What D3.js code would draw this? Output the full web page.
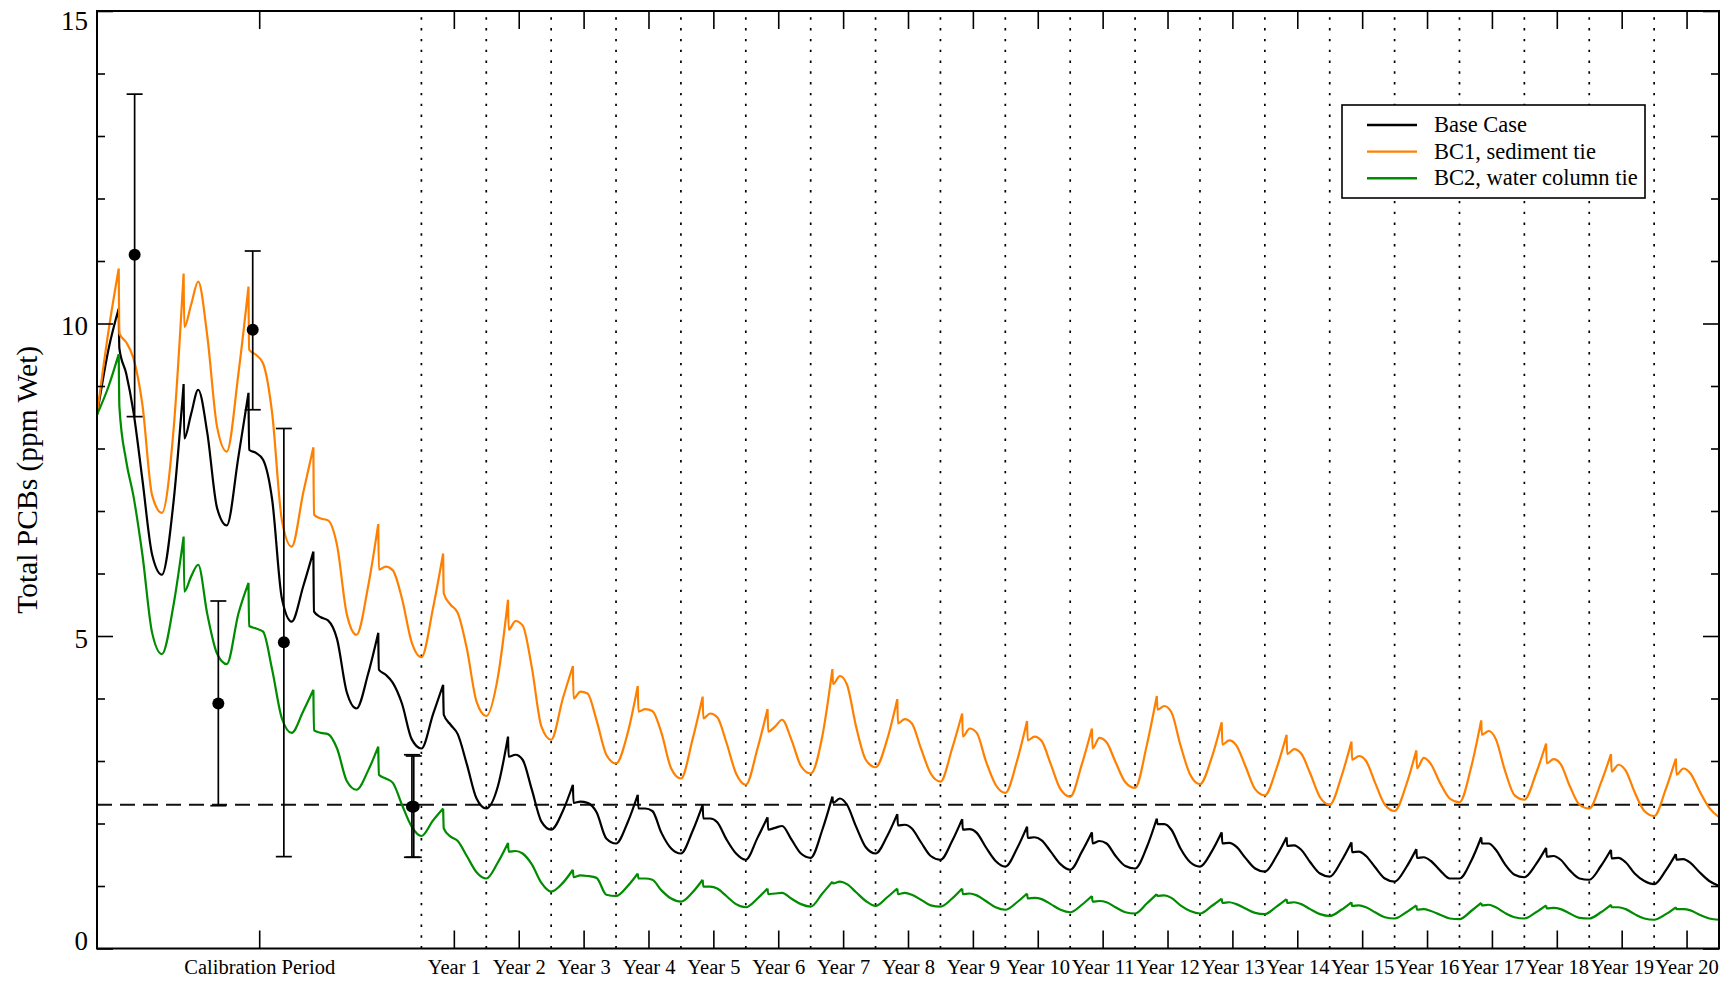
<!DOCTYPE html>
<html>
<head>
<meta charset="utf-8">
<script src="https://cdn.jsdelivr.net/npm/d3@7"></script>
<style>
  html, body { margin: 0; padding: 0; background: #fff; }
  svg { display: block; }
  svg text { font-family: "Liberation Serif", "Times New Roman", serif; }
</style>
</head>
<body>
<svg id="chart" width="1729" height="981"></svg>
<script>
// ---- Data -----------------------------------------------------------------
// Each model year is sampled at the same fractions of the year:
// seasonal low, rising limb, spike top, just after the spike, hump,
// end of plateau, falling limb, knee before the next low.
const cycleOffsets = [0, 0.18, 0.335, 0.345, 0.45, 0.56, 0.70, 0.85];
// Start of each model year (years -5..0 are the calibration period)
const cycleStarts = [-5, -4, -3, -2, -1, 0, 1, 2, 3, 4, 5, 6, 7, 8, 9, 10, 11, 12, 13, 14, 15, 16, 17, 18, 19];

// Base Case, total PCBs (ppm wet), one row per model year
const baseCase = [
  [8.54, 9.60, 10.24, 9.60, 9.20, 8.60, 7.50, 6.30],
  [5.98, 7.15, 9.03, 8.16, 8.55, 8.94, 8.25, 7.05],
  [6.77, 7.87, 8.89, 7.98, 7.93, 7.82, 7.18, 5.60],
  [5.23, 5.80, 6.35, 5.39, 5.30, 5.25, 4.95, 4.10],
  [3.84, 4.40, 5.05, 4.46, 4.38, 4.25, 3.92, 3.35],
  [3.20, 3.75, 4.22, 3.74, 3.58, 3.43, 2.95, 2.40],
  [2.24, 2.60, 3.39, 3.07, 3.10, 3.02, 2.55, 2.03],
  [1.90, 2.20, 2.62, 2.33, 2.35, 2.33, 2.18, 1.76],
  [1.68, 2.02, 2.46, 2.24, 2.24, 2.20, 1.85, 1.60],
  [1.52, 1.88, 2.30, 2.08, 2.08, 2.02, 1.75, 1.52],
  [1.42, 1.77, 2.10, 1.90, 1.93, 1.96, 1.75, 1.52],
  [1.45, 1.90, 2.43, 2.33, 2.40, 2.30, 1.95, 1.62],
  [1.52, 1.80, 2.15, 1.97, 1.98, 1.92, 1.70, 1.48],
  [1.42, 1.72, 2.07, 1.90, 1.91, 1.85, 1.62, 1.40],
  [1.31, 1.60, 1.95, 1.77, 1.78, 1.73, 1.55, 1.35],
  [1.26, 1.55, 1.86, 1.68, 1.72, 1.68, 1.48, 1.32],
  [1.28, 1.62, 2.08, 1.99, 1.99, 1.90, 1.60, 1.38],
  [1.31, 1.55, 1.86, 1.68, 1.69, 1.63, 1.45, 1.28],
  [1.23, 1.48, 1.78, 1.64, 1.65, 1.58, 1.38, 1.20],
  [1.15, 1.40, 1.70, 1.54, 1.55, 1.48, 1.30, 1.12],
  [1.07, 1.30, 1.59, 1.45, 1.46, 1.40, 1.25, 1.12],
  [1.12, 1.40, 1.78, 1.68, 1.68, 1.58, 1.35, 1.18],
  [1.14, 1.35, 1.61, 1.47, 1.48, 1.42, 1.25, 1.12],
  [1.10, 1.32, 1.58, 1.44, 1.45, 1.38, 1.20, 1.08],
  [1.03, 1.25, 1.51, 1.42, 1.43, 1.37, 1.22, 1.08]
];
const baseCaseFinal = 1.00;

// BC1, sediment tie
const bc1Sediment = [
  [8.54, 9.90, 10.88, 9.84, 9.70, 9.45, 8.70, 7.25],
  [6.97, 8.30, 10.80, 9.94, 10.30, 10.67, 9.80, 8.35],
  [7.95, 9.20, 10.59, 9.58, 9.50, 9.36, 8.56, 6.85],
  [6.43, 7.30, 8.02, 6.94, 6.88, 6.85, 6.45, 5.35],
  [5.02, 5.80, 6.79, 6.06, 6.11, 6.05, 5.60, 4.90],
  [4.66, 5.45, 6.32, 5.68, 5.50, 5.37, 4.80, 3.95],
  [3.72, 4.35, 5.58, 5.10, 5.24, 5.17, 4.51, 3.55],
  [3.34, 4.00, 4.52, 4.00, 4.11, 4.08, 3.65, 3.10],
  [2.96, 3.45, 4.20, 3.79, 3.83, 3.80, 3.45, 2.88],
  [2.72, 3.35, 4.03, 3.68, 3.76, 3.70, 3.30, 2.80],
  [2.62, 3.20, 3.83, 3.47, 3.55, 3.66, 3.35, 2.92],
  [2.80, 3.40, 4.47, 4.23, 4.36, 4.22, 3.55, 3.02],
  [2.90, 3.35, 3.99, 3.60, 3.67, 3.60, 3.20, 2.80],
  [2.67, 3.20, 3.76, 3.39, 3.52, 3.45, 3.00, 2.62],
  [2.49, 3.00, 3.64, 3.33, 3.39, 3.32, 2.95, 2.55],
  [2.43, 2.95, 3.52, 3.20, 3.37, 3.30, 2.98, 2.66],
  [2.57, 3.25, 4.04, 3.82, 3.88, 3.78, 3.25, 2.78],
  [2.63, 3.05, 3.62, 3.26, 3.33, 3.25, 2.92, 2.55],
  [2.45, 2.88, 3.42, 3.11, 3.19, 3.12, 2.80, 2.42],
  [2.30, 2.75, 3.31, 3.02, 3.08, 3.00, 2.65, 2.30],
  [2.20, 2.62, 3.17, 2.88, 3.05, 2.95, 2.65, 2.40],
  [2.34, 2.90, 3.65, 3.42, 3.48, 3.35, 2.85, 2.45],
  [2.38, 2.80, 3.28, 2.96, 3.03, 2.95, 2.60, 2.30],
  [2.24, 2.65, 3.11, 2.83, 2.94, 2.85, 2.50, 2.20],
  [2.12, 2.55, 3.04, 2.78, 2.88, 2.80, 2.52, 2.25]
];
const bc1SedimentFinal = 2.10;

// BC2, water column tie
const bc2WaterColumn = [
  [8.54, 9.00, 9.51, 8.67, 7.80, 7.25, 6.30, 5.05],
  [4.71, 5.50, 6.59, 5.71, 5.95, 6.14, 5.35, 4.72],
  [4.55, 5.36, 5.85, 5.16, 5.12, 5.07, 4.46, 3.68],
  [3.45, 3.80, 4.14, 3.49, 3.45, 3.43, 3.20, 2.68],
  [2.54, 2.85, 3.23, 2.78, 2.72, 2.65, 2.30, 1.95],
  [1.80, 2.05, 2.24, 1.92, 1.79, 1.72, 1.48, 1.22],
  [1.12, 1.38, 1.69, 1.55, 1.56, 1.52, 1.35, 1.05],
  [0.91, 1.05, 1.26, 1.14, 1.17, 1.16, 1.13, 0.86],
  [0.84, 1.00, 1.20, 1.12, 1.12, 1.10, 0.93, 0.80],
  [0.75, 0.90, 1.10, 0.99, 0.99, 0.96, 0.84, 0.71],
  [0.66, 0.80, 0.96, 0.87, 0.88, 0.89, 0.80, 0.71],
  [0.67, 0.88, 1.07, 1.04, 1.07, 1.03, 0.90, 0.76],
  [0.68, 0.82, 0.96, 0.87, 0.89, 0.86, 0.78, 0.69],
  [0.67, 0.80, 0.96, 0.87, 0.88, 0.85, 0.76, 0.66],
  [0.62, 0.74, 0.88, 0.80, 0.81, 0.79, 0.71, 0.62],
  [0.58, 0.70, 0.84, 0.75, 0.76, 0.74, 0.66, 0.58],
  [0.56, 0.72, 0.87, 0.84, 0.85, 0.81, 0.69, 0.60],
  [0.56, 0.68, 0.80, 0.73, 0.74, 0.71, 0.64, 0.57],
  [0.55, 0.67, 0.79, 0.73, 0.74, 0.71, 0.63, 0.55],
  [0.52, 0.62, 0.74, 0.68, 0.69, 0.66, 0.58, 0.50],
  [0.48, 0.58, 0.69, 0.62, 0.63, 0.60, 0.54, 0.48],
  [0.47, 0.60, 0.73, 0.69, 0.70, 0.66, 0.57, 0.50],
  [0.48, 0.58, 0.69, 0.64, 0.65, 0.63, 0.56, 0.49],
  [0.48, 0.58, 0.70, 0.66, 0.66, 0.63, 0.55, 0.48],
  [0.46, 0.55, 0.66, 0.63, 0.63, 0.61, 0.54, 0.48]
];
const bc2WaterColumnFinal = 0.46;

// Field observations: mean with low / high of the error bar
const obsYear  = [-4.42, -3.13, -2.60, -2.12, -0.146, -0.118];
const obsValue = [11.10, 3.92, 9.90, 4.90, 2.27, 2.27];
const obsLow   = [8.51, 2.285, 8.62, 1.47, 1.46, 1.46];
const obsHigh  = [13.67, 5.56, 11.16, 8.32, 3.10, 3.08];

// Reference level (dashed line)
const referenceLevel = 2.3;

// Axis ticks and labels
const yMajorTicks = [0, 5, 10, 15];
const yMinorTicks = [1, 2, 3, 4, 6, 7, 8, 9, 11, 12, 13, 14];
const xTickPos = [-2.5, 0.5, 1.5, 2.5, 3.5, 4.5, 5.5, 6.5, 7.5, 8.5, 9.5, 10.5, 11.5, 12.5, 13.5, 14.5, 15.5, 16.5, 17.5, 18.5, 19.5];
const xTickLabels = ["Calibration Period", "Year 1", "Year 2", "Year 3", "Year 4", "Year 5", "Year 6", "Year 7", "Year 8", "Year 9", "Year 10",
  "Year 11", "Year 12", "Year 13", "Year 14", "Year 15", "Year 16", "Year 17", "Year 18", "Year 19", "Year 20"];
const yearBoundaries = [0, 1, 2, 3, 4, 5, 6, 7, 8, 9, 10, 11, 12, 13, 14, 15, 16, 17, 18, 19];

const seriesNames = ["Base Case", "BC1, sediment tie", "BC2, water column tie"];
const seriesColors = ["#000000", "#ff8000", "#008c00"];

// ---- Layout ---------------------------------------------------------------
const plot = { left: 97, right: 1719, top: 11, bottom: 948.5 };
const serif = '"Liberation Serif", "Times New Roman", serif';

const svg = d3.select("#chart");

const x = d3.scaleLinear().domain([-5, 20]).range([plot.left, plot.right]);
const y = d3.scaleLinear().domain([0, 15]).range([plot.bottom, plot.top]);

// Flatten rows into {t, v} points
function toPoints(rows, finalValue) {
  const pts = [];
  rows.forEach((row, i) => row.forEach((v, j) => pts.push({ t: cycleStarts[i] + cycleOffsets[j], v })));
  pts.push({ t: cycleStarts[cycleStarts.length - 1] + 1, v: finalValue });
  return pts;
}

// Split at each spike top so the spikes stay sharp while the rest is smooth
function splitAtSpikes(pts) {
  const spikeIdx = cycleOffsets.indexOf(0.335);
  const cuts = [0];
  for (let i = spikeIdx; i < pts.length - 1; i += cycleOffsets.length) cuts.push(i);
  cuts.push(pts.length - 1);
  const segs = [];
  for (let k = 0; k < cuts.length - 1; k++) segs.push(pts.slice(cuts[k], cuts[k + 1] + 1));
  return segs;
}

const line = d3.line()
  .x(d => x(d.t))
  .y(d => y(d.v))
  .curve(d3.curveMonotoneX);

// ---- Grid: year boundaries (dotted) -----------------------------------------
svg.append("g")
  .selectAll("line")
  .data(yearBoundaries)
  .join("line")
  .attr("x1", d => x(d)).attr("x2", d => x(d))
  .attr("y1", plot.bottom).attr("y2", plot.top)
  .attr("stroke", "#000")
  .attr("stroke-width", 1.7)
  .attr("stroke-dasharray", "2.4,8.4");

// Reference level (dashed)
svg.append("line")
  .attr("x1", plot.left).attr("x2", plot.right)
  .attr("y1", y(referenceLevel)).attr("y2", y(referenceLevel))
  .attr("stroke", "#111")
  .attr("stroke-width", 1.8)
  .attr("stroke-dasharray", "15,8");

// ---- Model series -----------------------------------------------------------
const allSeries = [
  toPoints(baseCase, baseCaseFinal),
  toPoints(bc1Sediment, bc1SedimentFinal),
  toPoints(bc2WaterColumn, bc2WaterColumnFinal)
];

const seriesG = svg.append("g");
allSeries.forEach((pts, i) => {
  seriesG.append("path")
    .attr("d", splitAtSpikes(pts).map(s => line(s)).join(""))
    .attr("fill", "none")
    .attr("stroke", seriesColors[i])
    .attr("stroke-width", 2.2)
    .attr("stroke-linejoin", "round");
});

// ---- Observations with error bars --------------------------------------------
const obs = obsYear.map((t, i) => ({ t, v: obsValue[i], lo: obsLow[i], hi: obsHigh[i] }));
const obsG = svg.append("g").attr("stroke", "#000").attr("stroke-width", 1.7);
obsG.selectAll("line.bar").data(obs).join("line")
  .attr("class", "bar")
  .attr("x1", d => x(d.t)).attr("x2", d => x(d.t))
  .attr("y1", d => y(d.lo)).attr("y2", d => y(d.hi));
obsG.selectAll("line.capHi").data(obs).join("line")
  .attr("class", "capHi")
  .attr("x1", d => x(d.t) - 8).attr("x2", d => x(d.t) + 8)
  .attr("y1", d => y(d.hi)).attr("y2", d => y(d.hi));
obsG.selectAll("line.capLo").data(obs).join("line")
  .attr("class", "capLo")
  .attr("x1", d => x(d.t) - 8).attr("x2", d => x(d.t) + 8)
  .attr("y1", d => y(d.lo)).attr("y2", d => y(d.lo));
svg.append("g").selectAll("circle").data(obs).join("circle")
  .attr("cx", d => x(d.t)).attr("cy", d => y(d.v))
  .attr("r", 6)
  .attr("fill", "#000");

// ---- Axes -------------------------------------------------------------------
function styleAxis(g) {
  g.attr("font-family", null).attr("font-size", null);
  g.select(".domain").remove();
  g.selectAll(".tick line").attr("stroke", "#000").attr("stroke-width", 1.6);
}

// Bottom: labelled ticks
const xAxisBottom = svg.append("g")
  .attr("transform", `translate(0,${plot.bottom})`)
  .call(d3.axisBottom(x).tickValues(xTickPos).tickFormat((d, i) => xTickLabels[i]).tickSize(-18).tickPadding(10.5));
styleAxis(xAxisBottom);
xAxisBottom.selectAll("text")
  .attr("fill", "#000")
  .style("font-family", serif)
  .style("font-size", "20.5px");

// Top: mirrored ticks
const xAxisTop = svg.append("g")
  .attr("transform", `translate(0,${plot.top})`)
  .call(d3.axisTop(x).tickValues(xTickPos).tickFormat("").tickSize(-18));
styleAxis(xAxisTop);

// Left: labelled majors + minors
const yAxisLeft = svg.append("g")
  .attr("transform", `translate(${plot.left},0)`)
  .call(d3.axisLeft(y).tickValues(yMajorTicks).tickFormat(d3.format("d")).tickSize(-16).tickPadding(9));
styleAxis(yAxisLeft);
yAxisLeft.selectAll("text")
  .attr("fill", "#000")
  .style("font-family", serif)
  .style("font-size", "27px")
  .attr("dy", d => d === 15 ? "18px" : d === 0 ? "0.5px" : "11px");

const yAxisLeftMinor = svg.append("g")
  .attr("transform", `translate(${plot.left},0)`)
  .call(d3.axisLeft(y).tickValues(yMinorTicks).tickFormat("").tickSize(-8));
styleAxis(yAxisLeftMinor);

// Right: mirrored ticks
const yAxisRight = svg.append("g")
  .attr("transform", `translate(${plot.right},0)`)
  .call(d3.axisRight(y).tickValues(yMajorTicks).tickFormat("").tickSize(-16));
styleAxis(yAxisRight);
const yAxisRightMinor = svg.append("g")
  .attr("transform", `translate(${plot.right},0)`)
  .call(d3.axisRight(y).tickValues(yMinorTicks).tickFormat("").tickSize(-8));
styleAxis(yAxisRightMinor);

// Frame
svg.append("rect")
  .attr("x", plot.left).attr("y", plot.top)
  .attr("width", plot.right - plot.left).attr("height", plot.bottom - plot.top)
  .attr("fill", "none").attr("stroke", "#000").attr("stroke-width", 2);

// Y axis title
svg.append("text")
  .attr("transform", `translate(37,${(plot.top + plot.bottom) / 2}) rotate(-90)`)
  .attr("text-anchor", "middle")
  .style("font-family", serif)
  .style("font-size", "29.5px")
  .attr("fill", "#000")
  .text("Total PCBs (ppm Wet)");

// ---- Legend -----------------------------------------------------------------
const legend = svg.append("g");
legend.append("rect")
  .attr("x", 1342).attr("y", 105)
  .attr("width", 303).attr("height", 93)
  .attr("fill", "#fff").attr("stroke", "#000").attr("stroke-width", 1.6);
seriesNames.forEach((name, i) => {
  const ly = 125 + i * 26.6;
  legend.append("line")
    .attr("x1", 1367).attr("x2", 1417)
    .attr("y1", ly).attr("y2", ly)
    .attr("stroke", seriesColors[i]).attr("stroke-width", 2.4);
  legend.append("text")
    .attr("x", 1434).attr("y", ly + 7)
    .style("font-family", serif)
    .style("font-size", "22.5px")
    .attr("fill", "#000")
    .text(name);
});
</script>
</body>
</html>
